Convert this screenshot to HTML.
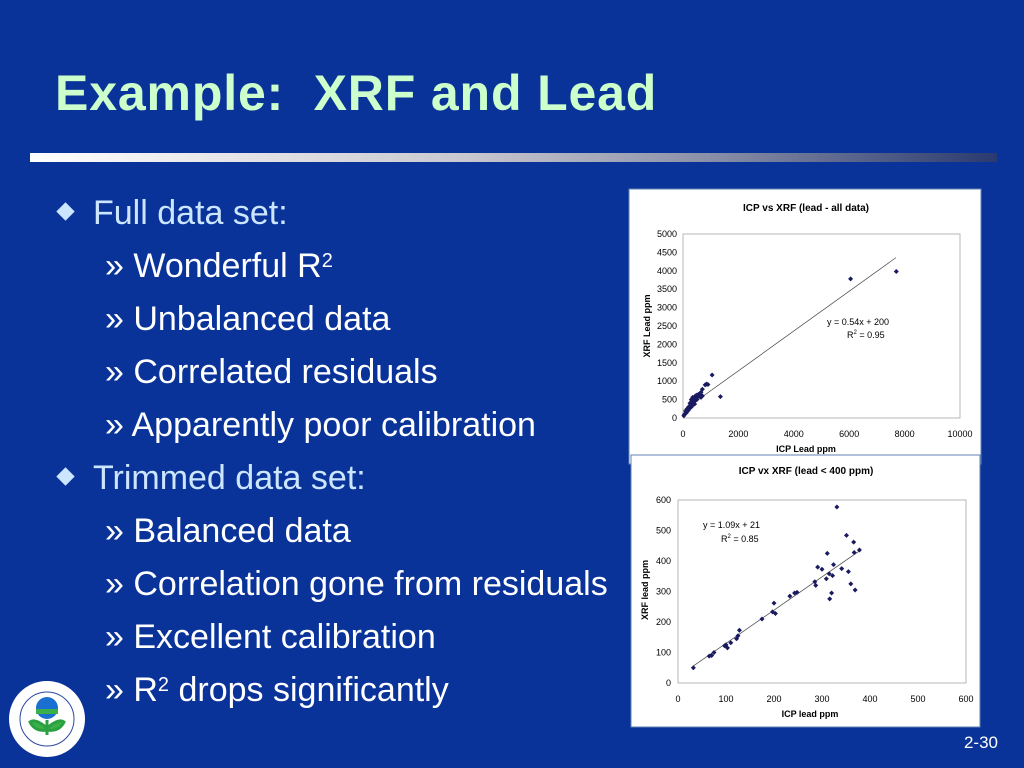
<!DOCTYPE html>
<html><head><meta charset="utf-8"><style>
body{margin:0;width:1024px;height:768px;background:#0a3399;position:relative;overflow:hidden;font-family:"Liberation Sans",Arial,sans-serif}
.t{position:absolute;left:55px;top:64px;font-size:50px;font-weight:bold;color:#ccffcc;white-space:nowrap;letter-spacing:0.85px}
.bar{position:absolute;left:30px;top:153px;width:967px;height:9px;background:linear-gradient(90deg,#fff,#c8c8d0 45%,#8a90a8 70%,#2a3a70)}
.l{position:absolute;white-space:nowrap;font-size:34px;line-height:36px}
.b{left:93px;color:#cce6ff}
.d{position:absolute;left:-34px;top:10px;width:13px;height:13px;background:#cce6ff;transform:rotate(45deg)}
.s{left:105px;color:#fff}
.s span.r{font-size:20px;vertical-align:top;position:relative;top:-5px}
.pn{position:absolute;right:26px;top:733px;color:#fff;font-size:17px}
</style></head><body>
<div class="t">Example:&nbsp; XRF and Lead</div>
<div class="bar"></div>
<div class="l b" style="top:195px"><div class="d"></div>Full data set:</div>
<div class="l s" style="top:248px">» Wonderful R<span class="r">2</span></div>
<div class="l s" style="top:301px">» Unbalanced data</div>
<div class="l s" style="top:354px">» Correlated residuals</div>
<div class="l s" style="top:407px">» Apparently poor calibration</div>
<div class="l b" style="top:460px"><div class="d"></div>Trimmed data set:</div>
<div class="l s" style="top:513px">» Balanced data</div>
<div class="l s" style="top:566px">» Correlation gone from residuals</div>
<div class="l s" style="top:619px">» Excellent calibration</div>
<div class="l s" style="top:672px">» R<span class="r">2</span> drops significantly</div>
<div class="pn">2-30</div>
<svg style="position:absolute;left:0;top:0" width="1024" height="768" font-family="Liberation Sans,Arial,sans-serif">
<circle cx="47" cy="719" r="38" fill="#fff"/>
<circle cx="47" cy="719" r="27" fill="#fff" stroke="#2a4aa0" stroke-width="1"/>
<circle cx="47" cy="708" r="11" fill="#1a6fd0"/>
<rect x="36" y="709" width="22" height="5" fill="#3bb04a"/>
<path d="M47 720 L47 735 M47 728 Q35 718 30 722 Q35 732 47 730 M47 728 Q59 718 64 722 Q59 732 47 730" stroke="#2aa040" stroke-width="3" fill="#3bb04a"/>
<rect x="629" y="189" width="352" height="275" fill="#fff" stroke="#6080b0"/>
<text x="806" y="211" font-size="10" font-weight="bold" text-anchor="middle">ICP vs XRF (lead - all data)</text>
<rect x="683" y="234" width="277" height="184" fill="none" stroke="#999" stroke-width="0.7"/>
<g font-size="9" text-anchor="end" id="y1"></g>
<g font-size="9" text-anchor="middle" id="x1"></g>
<text x="806" y="452" font-size="9" font-weight="bold" text-anchor="middle">ICP Lead ppm</text>
<text transform="translate(650,326) rotate(-90)" font-size="9" font-weight="bold" text-anchor="middle">XRF Lead ppm</text>
<line x1="683" y1="410.6" x2="896" y2="257.6" stroke="#444" stroke-width="0.7"/>
<text x="827" y="325" font-size="9">y = 0.54x + 200</text>
<text x="847" y="338" font-size="9">R<tspan font-size="6" dy="-4">2</tspan><tspan dy="4"> = 0.95</tspan></text>
<g id="p1" fill="#1a1a60"></g>
<rect x="631" y="455" width="349" height="272" fill="#fff" stroke="#6080b0"/>
<text x="806" y="474" font-size="10" font-weight="bold" text-anchor="middle">ICP vx XRF (lead &lt; 400 ppm)</text>
<rect x="678" y="500" width="288" height="183" fill="none" stroke="#999" stroke-width="0.7"/>
<g font-size="9" text-anchor="end" id="y2"></g>
<g font-size="9" text-anchor="middle" id="x2"></g>
<text x="810" y="717" font-size="9" font-weight="bold" text-anchor="middle">ICP lead ppm</text>
<text transform="translate(648,590) rotate(-90)" font-size="9" font-weight="bold" text-anchor="middle">XRF lead ppm</text>
<g id="l2"></g>
<text x="703" y="528" font-size="9">y = 1.09x + 21</text>
<text x="721" y="542" font-size="9">R<tspan font-size="6" dy="-4">2</tspan><tspan dy="4"> = 0.85</tspan></text>
<g id="p2" fill="#1a1a60"></g>
</svg>
<script>
var NS="http://www.w3.org/2000/svg";
function el(p,t,a,txt){var e=document.createElementNS(NS,t);for(var k in a)e.setAttribute(k,a[k]);if(txt!=null)e.textContent=txt;document.getElementById(p).appendChild(e);}
function dia(p,x,y){el(p,"path",{d:"M"+x+" "+(y-2.5)+"l2.5 2.5l-2.5 2.5l-2.5-2.5z"});}
var X1=function(d){return 683+d*0.0277},Y1=function(d){return 418-d*0.0368};
for(var v=0;v<=5000;v+=500)el("y1","text",{x:677,y:Y1(v)+3},v);
for(var v=0;v<=10000;v+=2000)el("x1","text",{x:X1(v),y:437},v);
var P1=[[6050,3780],[7700,3980],[1050,1170],[1350,580],[850,920],[800,900],[900,910],[700,780],[650,700],[600,650],[500,620],[450,600],[400,550],[350,560],[300,500],[250,400],[200,300],[150,250],[100,180],[50,100],[30,60],[350,350],[400,450],[450,480],[500,500],[300,300],[250,280],[200,220],[700,600],[550,640],[650,560],[380,420],[320,460],[120,140],[180,200],[280,350],[420,380],[520,560],[600,600]];
P1.forEach(function(p){dia("p1",X1(p[0]),Y1(p[1]))});
var X2=function(d){return 678+d*0.48},Y2=function(d){return 683-d*0.305};
for(var v=0;v<=600;v+=100)el("y2","text",{x:671,y:Y2(v)+3},v);
for(var v=0;v<=600;v+=100)el("x2","text",{x:X2(v),y:702},v);
el("l2","line",{x1:X2(32),y1:Y2(1.09*32+21),x2:X2(378),y2:Y2(1.09*378+21),stroke:"#444","stroke-width":0.7});
var P2=[[32,50],[65,88],[70,90],[75,100],[97,122],[100,125],[103,115],[110,132],[122,145],[125,155],[128,173],[175,210],[197,233],[200,262],[203,228],[233,285],[243,295],[248,297],[285,332],[287,320],[291,380],[300,373],[309,342],[311,425],[315,358],[316,276],[320,295],[322,352],[324,388],[331,577],[341,375],[351,484],[355,365],[360,325],[366,462],[367,428],[369,305],[378,436]];
P2.forEach(function(p){dia("p2",X2(p[0]),Y2(p[1]))});
</script>
</body></html>
